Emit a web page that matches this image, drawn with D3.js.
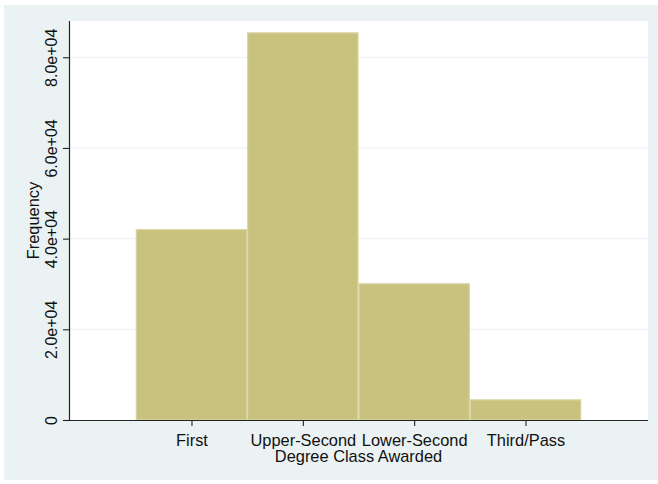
<!DOCTYPE html>
<html>
<head>
<meta charset="utf-8">
<script src="https://cdn.jsdelivr.net/npm/d3@7"></script>
<style>
  html, body { margin: 0; padding: 0; background: #ffffff; }
  svg { display: block; }
  text { font-family: "Liberation Sans", Arial, Helvetica, sans-serif; fill: #111; }
</style>
</head>
<body>
<svg id="chart" width="658" height="484"></svg>
<script>
// Data
const categories = ["First", "Upper-Second", "Lower-Second", "Third/Pass"];
const categoryCodes = [1, 2, 3, 4];
const frequencies = [42100, 85500, 30150, 4550];
const yTicks = [0, 20000, 40000, 60000, 80000];
const yTickLabels = ["0", "2.0e+04", "4.0e+04", "6.0e+04", "8.0e+04"];
const xTitle = "Degree Class Awarded";
const yTitle = "Frequency";

const W = 658, H = 484;
const plot = { left: 69, right: 648, top: 21, bottom: 420 };

const svg = d3.select("#chart");

// outer graph region
svg.append("rect").attr("x", 4).attr("y", 5).attr("width", W - 4).attr("height", 475)
  .attr("fill", "#eaf2f3");
// plot region
svg.append("rect").attr("x", plot.left).attr("y", plot.top)
  .attr("width", plot.right - plot.left).attr("height", plot.bottom - plot.top)
  .attr("fill", "#ffffff");

const x = d3.scaleLinear().domain([-0.1, 5.1]).range([plot.left, plot.right]);
const y = d3.scaleLinear().domain([0, 88000]).range([plot.bottom, plot.top]);

// gridlines
svg.append("g").selectAll("line").data(yTicks.filter(d => d > 0)).join("line")
  .attr("x1", plot.left).attr("x2", plot.right)
  .attr("y1", d => y(d)).attr("y2", d => y(d))
  .attr("stroke", "#eaf2f3").attr("stroke-width", 1.2);

// bars
const bw = x(1.5) - x(0.5);
svg.append("g").selectAll("rect").data(frequencies).join("rect")
  .attr("x", (d, i) => x(categoryCodes[i] - 0.5) + 0.5)
  .attr("y", d => y(d) + 0.5)
  .attr("width", bw - 1)
  .attr("height", d => y(0) - y(d) - 0.5)
  .attr("fill", "#c9c27e")
  .attr("stroke", "#dad5a4")
  .attr("stroke-width", 1.2);

// Y axis
const yAxis = d3.axisLeft(y).tickValues(yTicks).tickSize(6)
  .tickFormat((d, i) => yTickLabels[i]);
const gy = svg.append("g").attr("transform", `translate(${plot.left},0)`).call(yAxis);
gy.select(".domain").attr("stroke", "#222").attr("stroke-width", 1.2)
  .attr("d", `M0.5,${plot.top}V${plot.bottom}`);
gy.selectAll(".tick line").attr("stroke", "#222").attr("stroke-width", 1.1);
gy.selectAll(".tick text")
  .attr("transform", "rotate(-90)")
  .attr("x", 0).attr("y", -12).attr("dy", 0)
  .attr("text-anchor", "middle")
  .style("font-size", "16px")
  .style("font-family", "'Liberation Sans', Arial, sans-serif")
  .attr("fill", "#111");

// X axis
const xAxis = d3.axisBottom(x).tickValues(categoryCodes).tickSize(6)
  .tickFormat((d, i) => categories[i]);
const gx = svg.append("g").attr("transform", `translate(0,${plot.bottom})`).call(xAxis);
gx.select(".domain").attr("stroke", "#222").attr("stroke-width", 1.2)
  .attr("d", `M${plot.left},0.5H${plot.right}`);
gx.selectAll(".tick line").attr("stroke", "#222").attr("stroke-width", 1.1);
gx.selectAll(".tick text")
  .attr("y", 26).attr("dy", 0)
  .style("font-size", "16.4px")
  .style("font-family", "'Liberation Sans', Arial, sans-serif")
  .attr("fill", "#111");

// titles
svg.append("text").attr("x", (plot.left + plot.right) / 2).attr("y", 462)
  .attr("text-anchor", "middle").style("font-size", "16.4px").text(xTitle);
svg.append("text").attr("transform", `translate(38.5,${(plot.top + plot.bottom) / 2}) rotate(-90)`)
  .attr("text-anchor", "middle").style("font-size", "16.4px").text(yTitle);
</script>
</body>
</html>
